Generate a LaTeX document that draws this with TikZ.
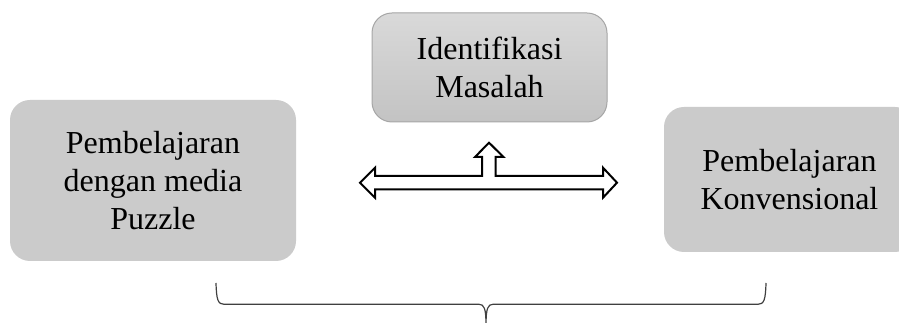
\documentclass[tikz,border=0pt]{standalone}
\usepackage{fontspec}
\setmainfont{Liberation Serif}
\newcommand{\pxUnit}{0.75pt}
\newcommand{\boxFont}{\fontsize{24}{28.8}\selectfont}
\definecolor{boxGray}{HTML}{CBCBCB}
\definecolor{midTop}{HTML}{D9D9D9}
\definecolor{midBottom}{HTML}{C3C3C3}
\definecolor{midBorder}{HTML}{A6A6A6}
\definecolor{braceGray}{HTML}{404040}

\begin{document}
\begin{tikzpicture}[x=\pxUnit, y=-\pxUnit,
   box/.style={rounded corners=15pt, fill=boxGray, align=center, font=\boxFont, inner sep=0pt}]
         \useasboundingbox (0,0) rectangle (899,323);

         \node (puzzle) [box, minimum width=286*\pxUnit, minimum height=161*\pxUnit]
            at (153,180.5) {Pembelajaran\\dengan media\\Puzzle};
         \node (masalah) [box, draw=midBorder, line width=0.75pt, top color=midTop, bottom color=midBottom,
            minimum width=235*\pxUnit, minimum height=109*\pxUnit]
            at (489.5,67.5) {Identifikasi\\Masalah};
         \node (konvensional) [box, minimum width=251*\pxUnit, minimum height=145*\pxUnit]
            at (789.5,179.5) {Pembelajaran\\Konvensional};

         % hollow arrow
         \draw[line width=1.5pt, line join=miter, fill=white]
            (360,182.7) -- (375,167.7) -- (375,176) -- (482,176) -- (482,157) -- (475,157)
            -- (489,142.7) -- (503.5,157) -- (495.5,157) -- (495.5,176) -- (603,176)
            -- (603,167.7) -- (617,182.7) -- (603,197.7) -- (603,189.3) -- (375,189.3)
            -- (375,197.7) -- cycle;

         % brace
         \draw[braceGray, line width=0.9pt]
            (216,283) .. controls (216.5,300) and (218,304.3) .. (224,304.3) -- (479,304.3)
            .. controls (484,304.3) and (486,308) .. (486,325)
            .. controls (486,308) and (488,304.3) .. (493,304.3) -- (758,304.3)
            .. controls (764,304.3) and (765.5,300) .. (766,283);
      \end{tikzpicture}
\end{document}
